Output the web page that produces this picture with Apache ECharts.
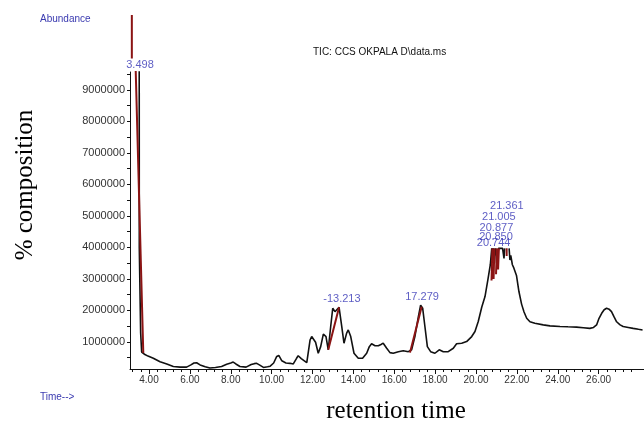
<!DOCTYPE html>
<html><head><meta charset="utf-8">
<script src="https://cdn.jsdelivr.net/npm/echarts@6/dist/echarts.min.js"></script>
<style>html,body{margin:0;padding:0;background:#fff}#c{width:644px;height:421px}</style>
</head><body><div id="c"></div>
<script>
// Retention time (min) and abundance (null = trace leaves the plot)
const retentionTime = [
 3.43, 3.48, 3.52, 3.525, 3.59, 3.64, 3.72, 3.80, 3.95, 4.21, 4.54, 4.87, 5.19, 5.52, 5.84, 6.05, 6.20, 6.33, 6.50, 6.75,
 6.98, 7.25, 7.55, 7.80, 8.00, 8.12, 8.25, 8.45, 8.75, 9.00, 9.15, 9.27, 9.40, 9.60, 9.80, 9.93, 10.10, 10.25, 10.35, 10.50,
 10.70, 10.90, 11.06, 11.22, 11.30, 11.45, 11.60, 11.72, 11.88, 11.96, 12.05, 12.15, 12.28, 12.40, 12.53, 12.66, 12.77, 12.89, 12.99, 13.10,
 13.18, 13.30, 13.43, 13.54, 13.67, 13.75, 13.87, 14.03, 14.24, 14.45, 14.65, 14.78, 14.89, 15.06, 15.22, 15.35, 15.46, 15.63, 15.79, 15.95,
 16.20, 16.44, 16.69, 16.85, 17.01, 17.18, 17.29, 17.39, 17.50, 17.62, 17.78, 17.99, 18.20, 18.40, 18.64, 18.89, 19.05, 19.30, 19.54, 19.79,
 19.95, 20.11, 20.28, 20.44, 20.58, 20.70, 20.77, 20.80, 20.85, 20.90, 20.95, 21.05, 21.10, 21.30, 21.37, 21.40, 21.50, 21.62, 21.66, 21.70,
 21.78, 21.85, 21.98, 22.10, 22.23, 22.35, 22.48, 22.64, 22.88, 23.29, 23.62, 24.11, 24.50, 24.92, 25.25, 25.57, 25.75, 25.90, 26.02, 26.15,
 26.27, 26.39, 26.51, 26.63, 26.75, 26.88, 27.05, 27.20, 27.45, 27.69, 27.95, 28.15
];
const abundance = [
 12000000, 14000000, 12000000, 4000000, 1300000, 680000, 620000, 600000, 550000, 480000, 370000, 300000, 220000, 200000, 200000, 270000, 330000, 340000, 270000, 210000,
 170000, 190000, 220000, 290000, 330000, 360000, 300000, 220000, 200000, 280000, 310000, 320000, 270000, 190000, 210000, 230000, 330000, 540000, 570000, 400000,
 330000, 320000, 300000, 480000, 560000, 470000, 400000, 340000, 1060000, 1170000, 1120000, 990000, 640000, 850000, 1250000, 1170000, 750000, 1490000, 2070000, 1960000,
 1910000, 2100000, 1490000, 960000, 1280000, 1380000, 1170000, 640000, 480000, 480000, 640000, 850000, 940000, 880000, 880000, 920000, 960000, 800000, 660000, 640000,
 690000, 720000, 690000, 750000, 1170000, 1800000, 2170000, 2070000, 1490000, 850000, 690000, 640000, 750000, 690000, 690000, 800000, 940000, 960000, 1010000, 1170000,
 1330000, 1650000, 2100000, 2440000, 2970000, 3450000, 3970000, 3600000, 3970000, 3500000, 3970000, 3600000, 3970000, 3970000, 3650000, 3970000, null, 3970000, 3600000, 3750000,
 3450000, 3350000, 3110000, 2600000, 2200000, 1950000, 1750000, 1640000, 1590000, 1540000, 1510000, 1490000, 1480000, 1470000, 1450000, 1430000, 1460000, 1540000, 1750000, 1910000,
 2020000, 2070000, 2040000, 1960000, 1800000, 1640000, 1540000, 1490000, 1460000, 1430000, 1400000, 1380000
];
// Integration markers (start time, start abundance, end time, end abundance)
const markerStartTime = [3.16, 3.35, 12.77, 16.77, 20.76, 20.86, 20.98, 21.08, 21.50];
const markerStartValue = [11380000, 9600000, 750000, 660000, 2950000, 3000000, 3150000, 3300000, 3730000];
const markerEndTime = [3.16, 3.72, 13.30, 17.34, 20.80, 20.90, 21.02, 21.12, 21.50];
const markerEndValue = [10000000, 650000, 2100000, 2120000, 3970000, 3970000, 3970000, 3970000, 3970000];
// Peak labels
const peakLabelText = ['3.498', '-13.213', '17.279', '21.361', '21.005', '20.877', '20.850', '20.744'];
const peakLabelTime = [3.56, 13.44, 17.36, 21.51, 21.12, 21.00, 20.98, 20.86];
const peakLabelHeight = [9790000, 2370000, 2430000, 5320000, 4970000, 4620000, 4330000, 4140000];
// Axis ticks
const xTickLabels = [4, 6, 8, 10, 12, 14, 16, 18, 20, 22, 24, 26];
const yTickLabels = [1000000, 2000000, 3000000, 4000000, 5000000, 6000000, 7000000, 8000000, 9000000];

const xMinorTicks = [];
for (let i = 8; i <= 70; i++) { const v = +(i * 0.4).toFixed(2); if (Math.abs(v / 2 - Math.round(v / 2)) > 1e-6) xMinorTicks.push(v); }
const yMinorTicks = yTickLabels.map(v => v - 500000).concat([9500000]);

const trace = retentionTime.map((t, i) => abundance[i] == null ? [t, null] : [t, abundance[i]]);
const markers = [];
markerStartTime.forEach((t, i) => {
  markers.push([t, markerStartValue[i]], [markerEndTime[i], markerEndValue[i]], [null, null]);
});
const labels = peakLabelText.map((s, i) => [peakLabelTime[i], peakLabelHeight[i], s]);

const X_MIN = 3.07, X_MAX = 28.22, Y_MIN = 140000, Y_MAX = 9570000;
const font = 'Liberation Sans, Arial, sans-serif';
const chart = echarts.init(document.getElementById('c'), null, {renderer: 'canvas'});
chart.setOption({
  animation: false,
  backgroundColor: '#fff',
  grid: {left: 130, right: 0, top: 72, bottom: 52},
  xAxis: [{
    type: 'value', min: X_MIN, max: X_MAX,
    axisLine: {show: true, onZero: false, lineStyle: {color: '#111', width: 1}},
    axisTick: {show: true, length: 5, lineStyle: {color: '#111'}, customValues: xTickLabels},
    axisLabel: {show: true, customValues: xTickLabels, margin: 6, color: '#333', fontSize: 10, fontFamily: font,
      formatter: v => v.toFixed(2)},
    splitLine: {show: false}
  }, {
    type: 'value', min: X_MIN, max: X_MAX, position: 'bottom',
    axisLine: {show: false},
    axisTick: {show: true, length: 3, lineStyle: {color: '#111'}, customValues: xMinorTicks},
    axisLabel: {show: false},
    splitLine: {show: false}
  }],
  yAxis: [{
    type: 'value', min: Y_MIN, max: Y_MAX,
    axisLine: {show: true, onZero: false, lineStyle: {color: '#111', width: 1}},
    axisTick: {show: true, length: 3, lineStyle: {color: '#111'}, customValues: yTickLabels},
    axisLabel: {show: true, customValues: yTickLabels, margin: 5, color: '#333', fontSize: 11, fontFamily: font,
      formatter: v => String(Math.round(v))},
    splitLine: {show: false}
  }, {
    type: 'value', min: Y_MIN, max: Y_MAX, position: 'left',
    axisLine: {show: false},
    axisTick: {show: true, length: 3, lineStyle: {color: '#111'}, customValues: yMinorTicks},
    axisLabel: {show: false},
    splitLine: {show: false}
  }],
  graphic: [
    {type: 'text', left: 40, top: 14, style: {text: 'Abundance', fill: '#3a3ab0', font: '10px ' + font}},
    {type: 'text', left: 40, top: 392, style: {text: 'Time-->', fill: '#3a3ab0', font: '10px ' + font}},
    {type: 'text', left: 313, top: 47, style: {text: 'TIC: CCS OKPALA D\\data.ms', fill: '#111', font: '10px ' + font}},
    {type: 'text', x: 25, y: 185, rotation: Math.PI / 2,
      style: {text: '% composition', fill: '#000', font: '25px Liberation Serif, Times New Roman, serif', align: 'center', verticalAlign: 'middle'}},
    {type: 'text', x: 396, y: 411,
      style: {text: 'retention time', fill: '#000', font: '25px Liberation Serif, Times New Roman, serif', align: 'center', verticalAlign: 'middle'}}
  ],
  series: [{
    type: 'line', data: trace, showSymbol: false, symbol: 'none', clip: true,
    lineStyle: {color: '#111', width: 1.6}, connectNulls: false, z: 3
  }, {
    type: 'line', data: markers, showSymbol: false, symbol: 'none', clip: false,
    lineStyle: {color: '#8b1414', width: 2}, connectNulls: false, z: 4
  }, {
    type: 'scatter', data: labels, symbolSize: 0, clip: false, z: 5,
    label: {show: true, position: 'inside', formatter: p => p.data[2], color: '#3535b5', fontSize: 11, fontFamily: font}
  }]
});
</script></body></html>
